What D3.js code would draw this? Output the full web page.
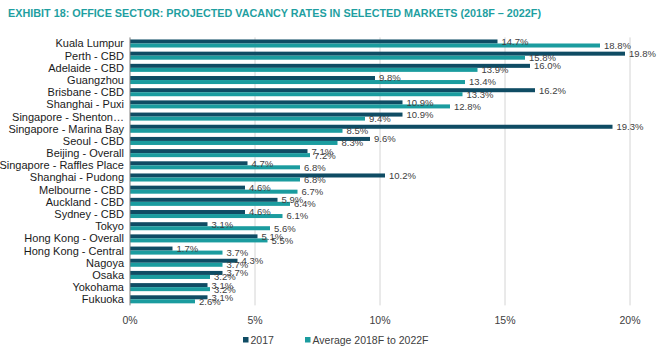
<!DOCTYPE html>
<html><head><meta charset="utf-8">
<script src="https://cdn.jsdelivr.net/npm/d3@7"></script>
<style>body{margin:0;background:#fff}svg{display:block}</style>
</head><body>
<svg id="c" width="664" height="360"></svg>
<script>
const categories = ["Kuala Lumpur","Perth - CBD","Adelaide - CBD","Guangzhou","Brisbane - CBD","Shanghai - Puxi","Singapore - Shenton\u2026","Singapore - Marina Bay","Seoul - CBD","Beijing - Overall","Singapore - Raffles Place","Shanghai - Pudong","Melbourne - CBD","Auckland - CBD","Sydney - CBD","Tokyo","Hong Kong - Overall","Hong Kong - Central","Nagoya","Osaka","Yokohama","Fukuoka"];
const values2017 = [14.7,19.8,16.0,9.8,16.2,10.9,10.9,19.3,9.6,7.1,4.7,10.2,4.6,5.9,4.6,3.1,5.1,1.7,4.3,3.7,3.1,3.1];
const valuesAvg = [18.8,15.8,13.9,13.4,13.3,12.8,9.4,8.5,8.3,7.2,6.8,6.8,6.7,6.4,6.1,5.6,5.5,3.7,3.7,3.2,3.2,2.6];
const seriesNames = ["2017","Average 2018F to 2022F"];
const xTicks = [0,5,10,15,20];
const title = "EXHIBIT 18: OFFICE SECTOR: PROJECTED VACANCY RATES IN SELECTED MARKETS (2018F \u2013 2022F)";

const colors = ["#0f4c64","#1b9c9f"];
const svg = d3.select("#c");
const m = {left:130, right:34, top:37.4, bottom:54.6};
const W = 664, H = 360;
const x = d3.scaleLinear().domain([0,20]).range([m.left, W - m.right]);
const y = d3.scaleBand().domain(categories).range([m.top, H - m.bottom]).paddingInner(0.34).paddingOuter(0.17);
const sub = d3.scaleBand().domain([0,1]).range([0, y.bandwidth()]);

svg.append("text").attr("x",8).attr("y",17).attr("fill","#1f9fa1")
  .attr("font-family","'Liberation Sans Narrow','Arial Narrow',Arial,sans-serif")
  .attr("font-weight","bold").attr("font-size",11.5)
  .attr("textLength",533).attr("lengthAdjust","spacingAndGlyphs").text(title);

// gridlines
svg.append("g").selectAll("line").data(xTicks.slice(1)).join("line")
  .attr("x1",d=>x(d)).attr("x2",d=>x(d)).attr("y1",m.top).attr("y2",H-m.bottom)
  .attr("stroke","#d4d4d4").attr("stroke-width",1);

// bars
const series = [values2017, valuesAvg];
series.forEach((vals, si) => {
  svg.append("g").selectAll("rect").data(categories).join("rect")
    .attr("x", x(0)).attr("y", (d)=> y(d) + sub(si))
    .attr("width", (d,i)=> x(vals[i]) - x(0)).attr("height", sub.bandwidth())
    .attr("fill", colors[si]);
});
// labels
series.forEach((vals, si) => {
  svg.append("g").selectAll("text").data(categories).join("text")
    .attr("x", (d,i)=> x(vals[i]) + 4).attr("y", d=> y(d) + sub(si) + sub.bandwidth()/2)
    .attr("dy","0.36em").attr("font-family","Arial,'Liberation Sans',sans-serif")
    .attr("font-size",9.5).attr("fill","#404040").text((d,i)=> vals[i].toFixed(1)+"%");
});

// y axis
svg.append("line").attr("x1",x(0)).attr("x2",x(0)).attr("y1",m.top).attr("y2",H-m.bottom)
  .attr("stroke","#7f7f7f").attr("stroke-width",1);
svg.append("g").selectAll("text").data(categories).join("text")
  .attr("x", 124).attr("y", d=> y(d)+y.bandwidth()/2).attr("dy","0.36em")
  .attr("text-anchor","end").attr("font-family","Arial,'Liberation Sans',sans-serif")
  .attr("font-size",11).attr("fill","#1a1a1a").text(d=>d);

// x tick labels
svg.append("g").selectAll("text").data(xTicks).join("text")
  .attr("x", d=>x(d)).attr("y", 324).attr("text-anchor","middle")
  .attr("font-family","Arial,'Liberation Sans',sans-serif").attr("font-size",10.5)
  .attr("fill","#404040").text(d=>d+"%");

// legend
const legX = [243, 305];
seriesNames.forEach((n,i)=>{
  svg.append("rect").attr("x",legX[i]).attr("y",337).attr("width",5.5).attr("height",5.5).attr("fill",colors[i]);
  svg.append("text").attr("x",legX[i]+7.5).attr("y",340).attr("dy","0.36em")
    .attr("font-family","Arial,'Liberation Sans',sans-serif").attr("font-size",10.5)
    .attr("fill","#404040").text(n);
});
</script>
</body></html>
